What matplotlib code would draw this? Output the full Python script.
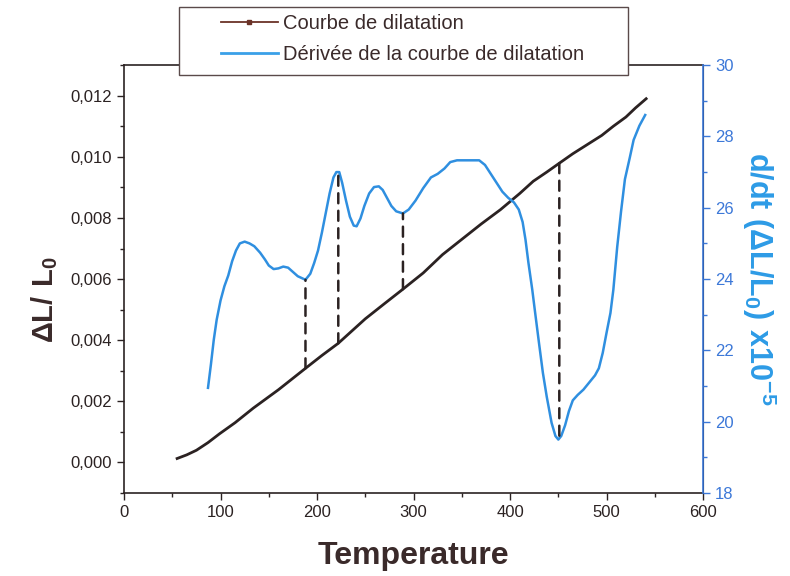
import matplotlib
matplotlib.use('Agg')
import matplotlib.pyplot as plt
from matplotlib.lines import Line2D
from matplotlib.patches import Rectangle, ConnectionPatch
from matplotlib.ticker import MultipleLocator, FuncFormatter

plt.rcParams['font.family'] = ['Liberation Sans', 'DejaVu Sans']
plt.rcParams['mathtext.fontset'] = 'custom'
plt.rcParams['mathtext.rm'] = 'Liberation Sans'
plt.rcParams['mathtext.bf'] = 'Liberation Sans:bold'

# Dilatation curve (left axis)
temp_dil = [55, 65, 75, 87, 99, 115, 134, 160, 188, 205, 222, 250, 270, 289, 310, 330,
            350, 370, 390, 410, 424, 438, 451, 465, 480, 495, 507, 520, 530, 541]
dil = [0.00013, 0.00025, 0.0004, 0.00065, 0.00094, 0.0013, 0.00178, 0.00238, 0.00308,
       0.0035, 0.0039, 0.0047, 0.0052, 0.00567, 0.0062, 0.0068, 0.0073, 0.0078, 0.00827,
       0.0088, 0.0092, 0.0095, 0.00979, 0.0101, 0.0104, 0.0107, 0.0110, 0.0113, 0.0116, 0.0119]

# Derivative curve (right axis, x1e-5)
temp_der = [87, 90, 93, 96, 100, 104, 108, 112, 116, 120, 125, 130, 135, 141, 146, 150,
            155, 160, 165, 170, 175, 180, 188, 193, 197, 201, 205, 209, 213, 217, 220, 223,
            226, 230, 234, 238, 241, 245, 249, 254, 259, 264, 268, 272, 277, 282, 289, 295,
            302, 310, 318, 325, 332, 338, 345, 360, 368, 374, 380, 386, 392, 398, 404, 409,
            413, 416, 419, 423, 426, 430, 434, 438, 443, 447, 450, 453, 457, 461, 465, 470,
            476, 482, 488, 492, 496, 500, 504, 507, 511, 515, 519, 524, 528, 534, 540]
deriv = [20.95, 21.6, 22.3, 22.86, 23.4, 23.8, 24.1, 24.5, 24.8, 25.0, 25.05, 25.0, 24.92,
         24.74, 24.55, 24.38, 24.28, 24.3, 24.35, 24.32, 24.2, 24.08, 23.98, 24.15, 24.45,
         24.8, 25.3, 25.85, 26.4, 26.85, 27.0, 27.0, 26.7, 26.2, 25.75, 25.5, 25.48, 25.7,
         26.05, 26.4, 26.58, 26.6, 26.5, 26.3, 26.05, 25.9, 25.84, 25.95, 26.2, 26.55, 26.85,
         26.95, 27.1, 27.28, 27.33, 27.33, 27.33, 27.2, 26.95, 26.7, 26.45, 26.28, 26.15,
         25.95, 25.6, 25.1, 24.46, 23.7, 23.05, 22.2, 21.37, 20.7, 19.97, 19.6, 19.5, 19.6,
         19.9, 20.3, 20.6, 20.75, 20.9, 21.1, 21.3, 21.5, 21.93, 22.5, 23.05, 23.7, 24.9,
         25.9, 26.8, 27.4, 27.9, 28.3, 28.6]

# Transition markers: temperature, dilatation value, derivative value
mark_temp = [188, 222, 289, 451]
mark_dil = [0.00308, 0.0039, 0.00567, 0.00979]
mark_der = [23.98, 27.0, 25.84, 19.5]

dark = '#2b2222'
blue = '#2f8fe0'
blue_axis = '#3c78d8'

fig = plt.figure(figsize=(7.9, 5.76), dpi=100)
ax1 = fig.add_axes([0.157, 0.144, 0.733, 0.743])
ax2 = ax1.twinx()

ax1.plot(temp_dil, dil, color=dark, lw=2.0, zorder=3)
ax2.plot(temp_der, deriv, color=blue, lw=1.8, zorder=3)

for t, d, v in zip(mark_temp, mark_dil, mark_der):
    con = ConnectionPatch(xyA=(t, d), coordsA=ax1.transData, xyB=(t, v), coordsB=ax2.transData,
                          color=dark, lw=1.8, linestyle=(0, (4, 3)), zorder=2)
    fig.add_artist(con)

ax1.set_xlim(0, 600)
ax1.set_ylim(-0.001, 0.013)
ax2.set_ylim(18, 30)

ax1.xaxis.set_major_locator(MultipleLocator(100))
ax1.xaxis.set_minor_locator(MultipleLocator(50))
ax1.yaxis.set_major_locator(MultipleLocator(0.002))
ax1.yaxis.set_minor_locator(MultipleLocator(0.001))
ax1.yaxis.set_major_formatter(FuncFormatter(lambda v, p: f'{v:.3f}'.replace('.', ',').replace('-0,000', '0,000')))
ax2.yaxis.set_major_locator(MultipleLocator(2))
ax2.yaxis.set_minor_locator(MultipleLocator(1))

ax1.tick_params(axis='both', which='both', direction='out', colors=dark, labelsize=12)
ax1.tick_params(which='major', length=5, width=1)
ax1.tick_params(which='minor', length=3, width=1)
ax2.tick_params(axis='y', which='both', direction='out', colors=blue_axis, labelsize=12)
ax2.tick_params(which='major', length=5, width=1)
ax2.tick_params(which='minor', length=3, width=1)

for s in ['left', 'bottom', 'top']:
    ax1.spines[s].set_color(dark)
    ax1.spines[s].set_linewidth(1.2)
ax2.spines['right'].set_color(blue_axis)
ax2.spines['right'].set_linewidth(1.2)
for s in ['left', 'bottom', 'top']:
    ax2.spines[s].set_visible(False)

ax1.set_xlabel('Temperature', fontsize=23, fontweight='bold', color='#3a2a2a', labelpad=15)
ax1.set_ylabel(r'$\mathbf{\Delta L/\ L_0}$', fontsize=21, color='#3a2a2a')
ax1.yaxis.set_label_coords(-0.11, 0.453)
ax2.set_ylabel(r'$\mathbf{d/dt\ (\Delta L/L_0)\ x10^{-5}}$', fontsize=22, color='#2d9be6',
               rotation=-90, labelpad=32)

# Legend with its own frame
fig.patches.append(Rectangle((179 / 790, 1 - 75 / 576), 449 / 790, 68 / 576,
                             transform=fig.transFigure, facecolor='white',
                             edgecolor='#5a4a4a', lw=1.0, zorder=5))
handles = [Line2D([], [], color='#6b3328', lw=1.3, marker='s', markersize=2.5),
           Line2D([], [], color='#3aa0e8', lw=2.0)]
labels = ['Courbe de dilatation', 'Dérivée de la courbe de dilatation']
leg = fig.legend(handles, labels, loc='upper left', bbox_to_anchor=(203 / 790, 1 + 4 / 576),
                 frameon=False, fontsize=14.5, handlelength=2.8, handletextpad=0.25,
                 labelspacing=0.6, labelcolor='#3a2a2a')
leg.set_zorder(6)

fig.savefig('out.png', dpi=100)
